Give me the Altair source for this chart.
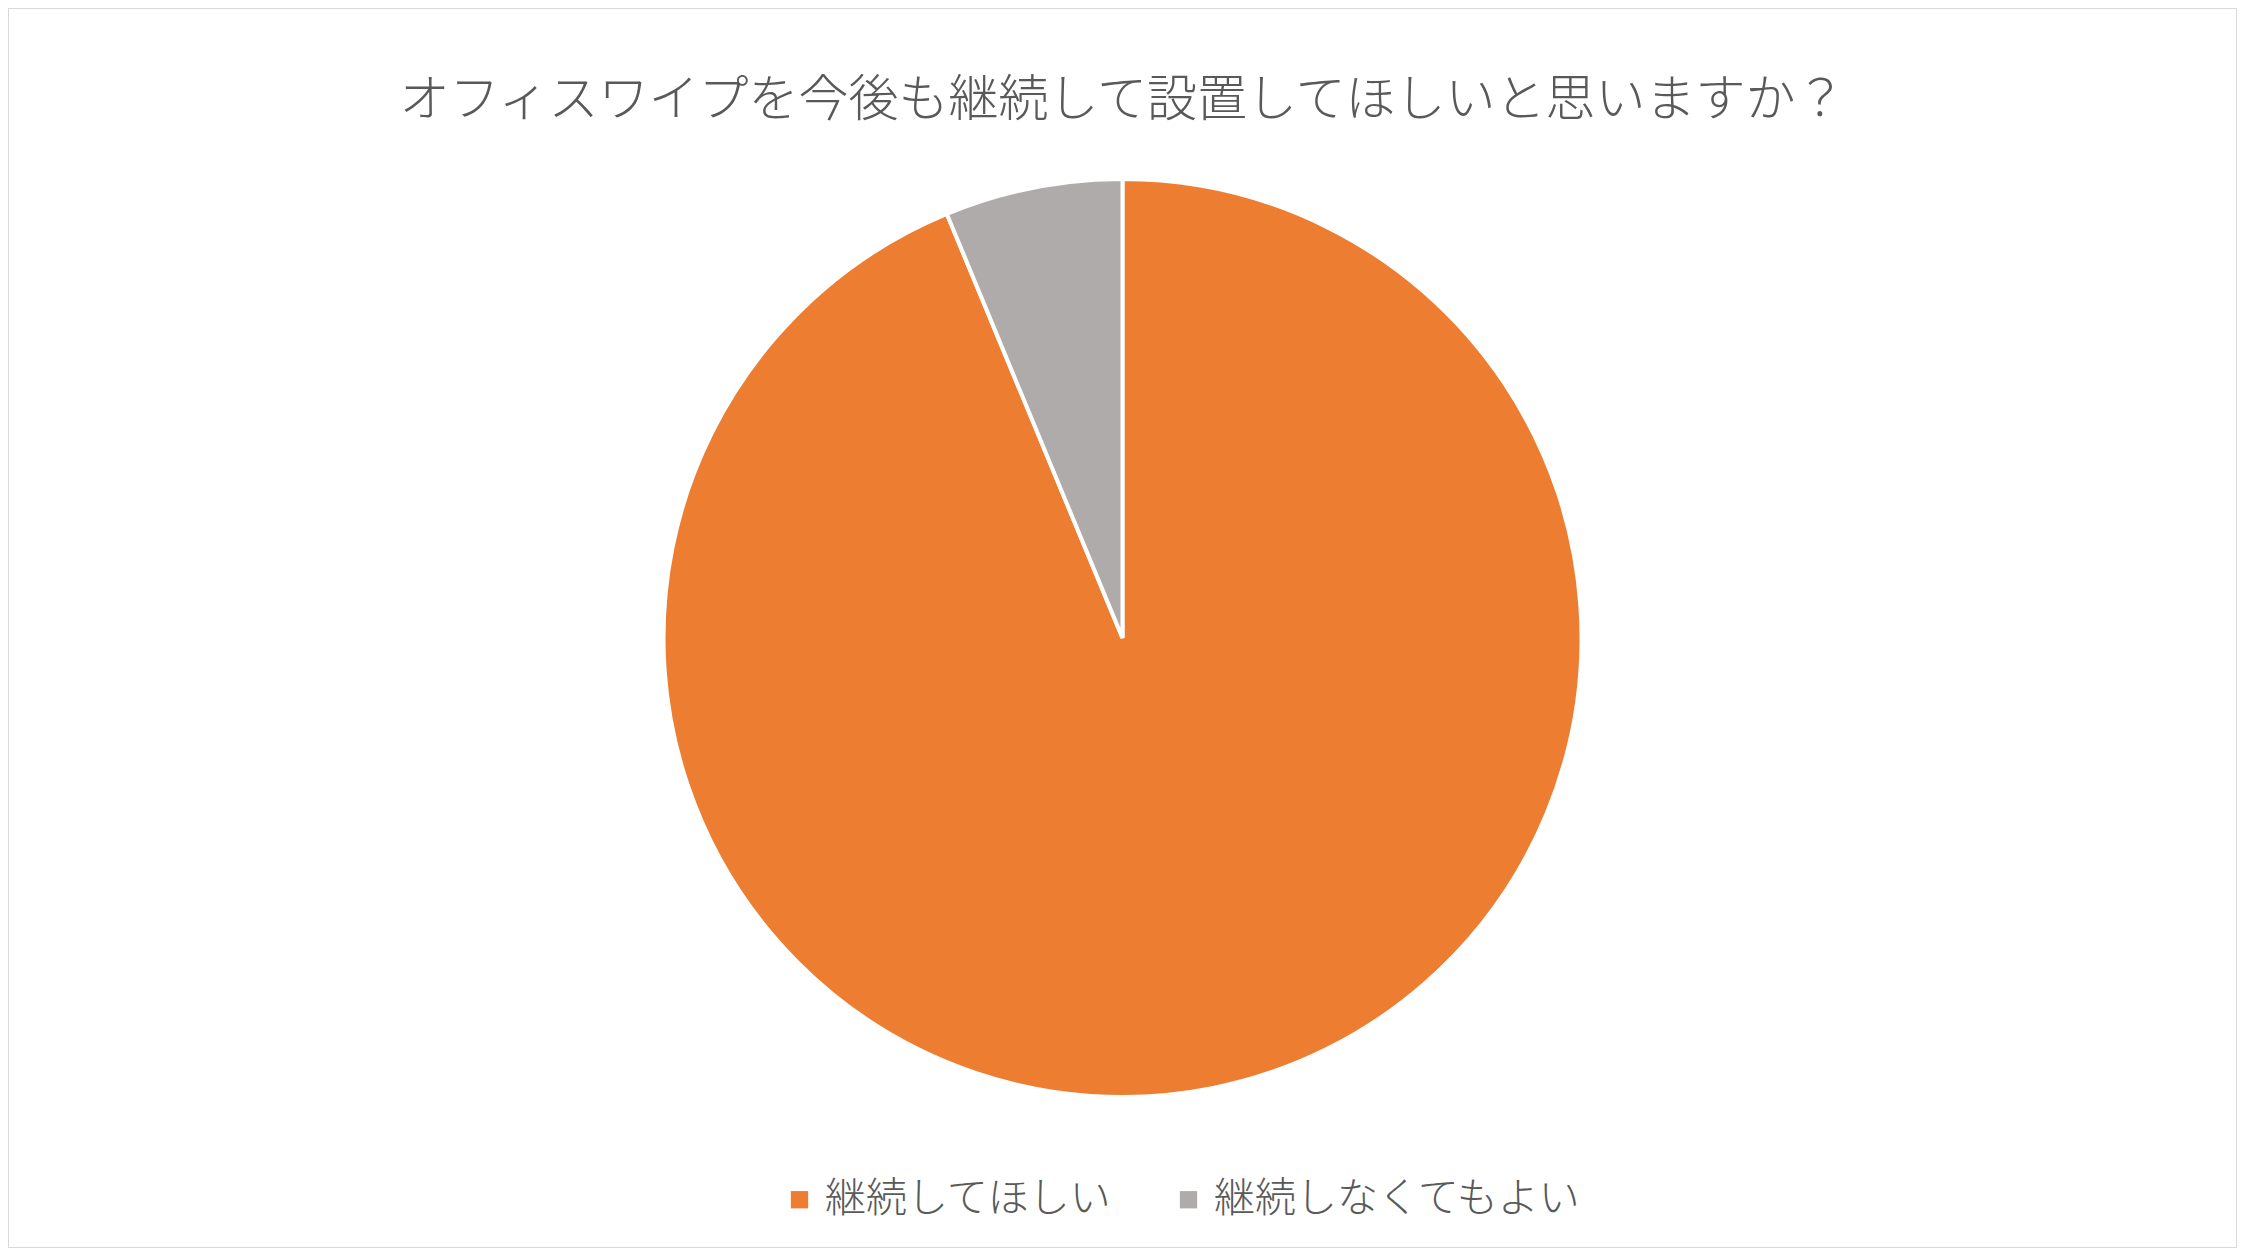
import altair as alt
import pandas as pd

title_text = "オフィスワイプを今後も継続して設置してほしいと思いますか？"
categories = ["継続してほしい", "継続しなくてもよい"]
values = [15, 1]
colors = ["#ED7D31", "#AFABAB"]

df = pd.DataFrame({"cat": categories, "val": values, "ord": list(range(len(categories)))})

FONT = "Noto Sans CJK JP"
W, H = 2229, 1240

pie = alt.Chart(df).mark_arc(radius=459, stroke="white", strokeWidth=4).encode(
    theta=alt.Theta("val:Q", stack=True),
    order=alt.Order("ord:Q"),
    color=alt.Color(
        "cat:N",
        scale=alt.Scale(domain=categories, range=colors),
        sort=categories,
        legend=alt.Legend(
            title=None,
            orient="none",
            direction="horizontal",
            legendX=771,
            legendY=1171,
            symbolType="square",
            symbolSize=300,
            symbolStrokeWidth=0,
            labelFont=FONT,
            labelFontSize=41,
            labelFontWeight=300,
            labelColor="#595959",
            labelOffset=5,
            columnPadding=56,
            padding=0,
            labelLimit=600,
        ),
    ),
    x=alt.value(W / 2),
    y=alt.value(630),
)

title = alt.Chart(pd.DataFrame({"t": [title_text]})).mark_text(
    font=FONT, fontSize=50, fontWeight=300, color="#595959",
    align="center", baseline="middle",
).encode(
    text="t:N",
    x=alt.value(W / 2),
    y=alt.value(93),
)

chart = alt.layer(pie, title).properties(
    width=W, height=H, padding=0,
    autosize=alt.AutoSizeParams(type="none"),
    background="white",
).configure_view(stroke="#D9D9D9", strokeWidth=2)

chart.save("out.html", embed_options={"renderer": "svg", "actions": False})
